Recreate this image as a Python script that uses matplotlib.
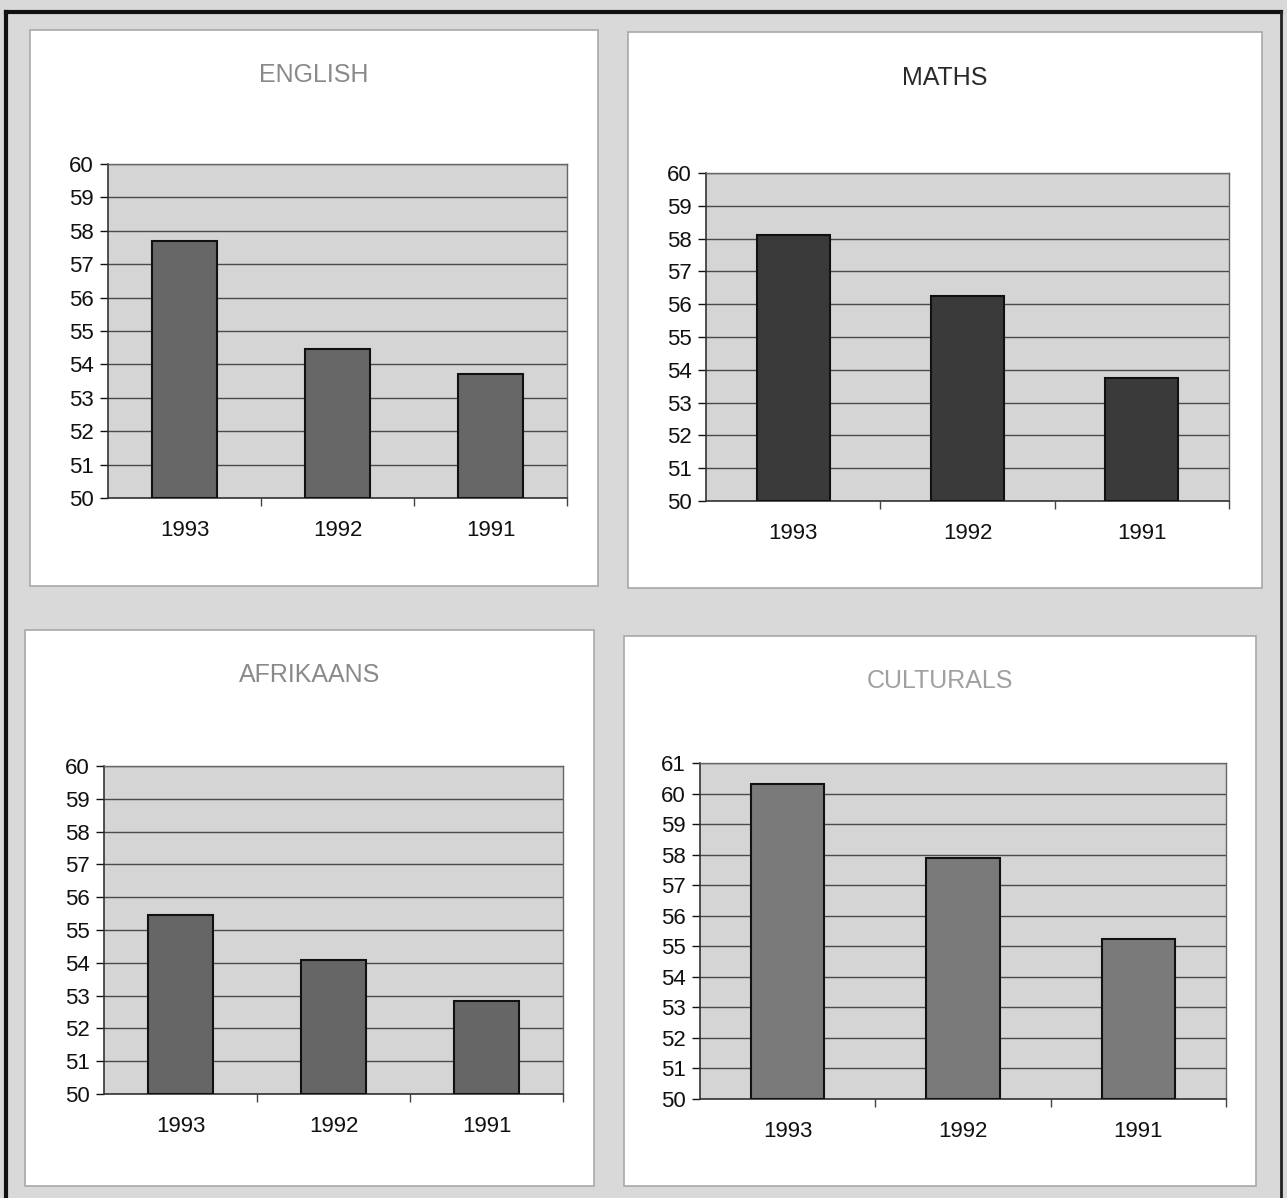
import matplotlib.pyplot as plt
import matplotlib as mpl
from matplotlib.patches import Rectangle
from matplotlib.lines import Line2D
import numpy as np

mpl.rcParams['font.family'] = ['Liberation Sans', 'DejaVu Sans']

W, H = 1287, 1198

years = ['1993', '1992', '1991']
english = [57.7, 54.45, 53.7]
maths = [58.1, 56.25, 53.75]
afrikaans = [55.45, 54.1, 52.85]
culturals = [60.3, 57.9, 55.25]


def px_rect(x0, y0, x1, y1):
    # pixel box (top-left origin) -> figure fraction [left, bottom, width, height]
    return [x0 / W, 1 - y1 / H, (x1 - x0) / W, (y1 - y0) / H]


fig = plt.figure(figsize=(W / 100, H / 100), dpi=100)
fig.patch.set_facecolor('#d9d9d9')

# outer frame
fig.add_artist(Line2D([6 / W, 6 / W], [0, 1 - 12 / H], transform=fig.transFigure, color='#111', lw=3))
fig.add_artist(Line2D([6 / W, 1281 / W], [1 - 12 / H, 1 - 12 / H], transform=fig.transFigure, color='#111', lw=3))
fig.add_artist(Line2D([1281 / W, 1281 / W], [0, 1 - 12 / H], transform=fig.transFigure, color='#222', lw=2))

panels = [
    # title, values, bar color, title color, title y, panel box, axes box, ymax
    ('ENGLISH', english, '#676767', '#8a8a8a', 75, (30, 30, 598, 586), (108, 164, 567, 498), 60),
    ('MATHS', maths, '#3a3a3a', '#2a2a2a', 78, (628, 32, 1262, 588), (706, 173, 1229, 501), 60),
    ('AFRIKAANS', afrikaans, '#666666', '#8a8a8a', 675, (25, 630, 594, 1186), (104, 766, 563, 1094), 60),
    ('CULTURALS', culturals, '#7a7a7a', '#a0a0a0', 681, (624, 636, 1256, 1186), (700, 763, 1226, 1099), 61),
]

for title, vals, bar_col, title_col, ty, pbox, abox, ymax in panels:
    px0, py0, px1, py1 = pbox
    fig.add_artist(Rectangle((px0 / W, 1 - py1 / H), (px1 - px0) / W, (py1 - py0) / H,
                             transform=fig.transFigure, facecolor='white',
                             edgecolor='#a8a8a8', lw=1.2, zorder=0))
    fig.text((px0 + px1) / 2 / W, 1 - ty / H, title, ha='center', va='center',
             fontsize=18, color=title_col)

    ax = fig.add_axes(px_rect(*abox))
    ax.set_facecolor('#d5d5d5')
    x = np.arange(len(years))
    ax.bar(x, np.array(vals) - 50, bottom=50, width=0.42, color=bar_col,
           edgecolor='#111', linewidth=1.5, zorder=3)
    ax.set_xlim(-0.5, 2.5)
    ax.set_ylim(50, ymax)
    ax.set_yticks(range(50, ymax + 1))
    ax.yaxis.grid(True, color='#4a4a4a', lw=1, zorder=1)
    ax.set_axisbelow(True)
    ax.set_xticks(x)
    ax.set_xticklabels(years)
    ax.set_xticks([0.5, 1.5, 2.5], minor=True)
    ax.tick_params(axis='x', which='major', length=0, pad=16, labelsize=16, colors='#111')
    ax.tick_params(axis='x', which='minor', length=6, width=1, direction='out', color='#444')
    ax.tick_params(axis='y', length=6, width=1, direction='out', pad=4, labelsize=16,
                   colors='#111')
    for s in ['left', 'bottom']:
        ax.spines[s].set_color('#333')
        ax.spines[s].set_linewidth(1.2)
    for s in ['top', 'right']:
        ax.spines[s].set_color('#666')
        ax.spines[s].set_linewidth(1)

fig.savefig('out.png', dpi=100, facecolor=fig.get_facecolor())
